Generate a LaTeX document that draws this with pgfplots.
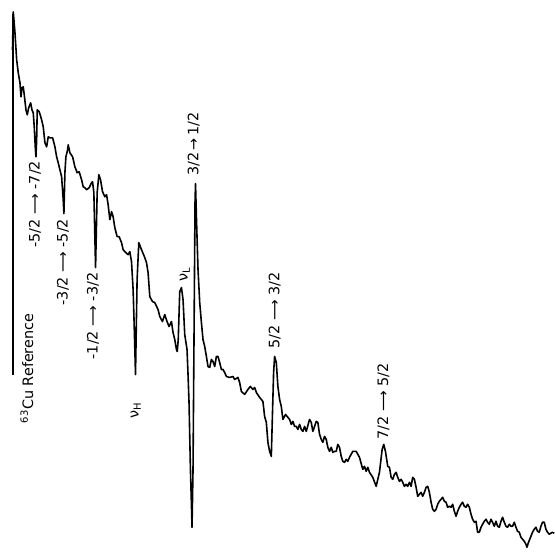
\documentclass[border=0pt]{standalone}
\usepackage{pgfplots}
\pgfplotsset{compat=1.18}
\usepackage{fontspec}
\setmainfont{DejaVu Sans}
\tikzset{lab/.style={font=\fontsize{14.4}{16}\selectfont, inner sep=0pt, rotate=90}}
\begin{document}
\begin{tikzpicture}
\begin{axis}[hide axis, scale only axis, width=555pt, height=552pt,
  xmin=0, xmax=555, ymin=0, ymax=552, y dir=reverse, clip=false]
\path[draw=none] (axis cs:0,0) rectangle (axis cs:555,552);
% 63Cu reference line
\addplot[black, line width=1.5pt] coordinates {(13,14) (13,376)};
% spectrum
\addplot[black, line width=1.6pt, line join=round] coordinates {
(12.5,50) (13.3,12) (15,33) (16.7,60) (18.3,73) (20,83) (21,97) (22,88) (23.3,87) (24.3,95)
(26,110) (27.3,115) (28.7,108) (30.7,103) (32,110) (33.3,113) (34.3,127) (35.3,147) (36,157)
(36.7,140) (37.3,110) (39.3,112) (41.7,120) (43.3,127) (45,143) (46.7,147) (48.3,137) (50,138)
(52.7,138) (55,147) (56.7,157) (58.3,163) (60,170) (61.7,177) (63.3,200) (64,214) (65,173)
(66,157) (67.7,150) (68.3,145) (70,153) (72.7,157) (75,167) (77.3,173) (79.3,172) (81.7,180)
(83.3,187) (85,188) (86.7,190) (89.3,188) (91.7,183) (92.7,182) (94,193) (95.7,268) (97.3,193)
(99,175) (100.7,180) (102.7,192) (105,197) (106.7,195) (108.3,205) (110,220) (111.7,212)
(113.3,217) (115,228) (117.3,237) (119.3,237) (121.7,243) (123.3,250) (126,253) (128.3,255)
(130,252) (131.7,262) (133.3,290) (134.3,323) (135.7,375) (137.3,280) (139,243) (141.7,250)
(145,258) (146.7,263) (148.3,273) (150,297) (152.7,302) (155,303) (158.3,310) (160,317)
(162.7,322) (165,315) (167.3,322) (169.3,327) (171.7,322) (173.3,333) (175,340) (176.7,350)
(177.5,352) (178.5,340) (180,292) (181.7,288) (183.3,300) (185,335) (187.3,350) (188.3,375)
(189.3,403) (190.7,470) (191.7,505) (192.3,528) (193.3,470) (194.3,337) (195.3,203) (195.8,184)
(196.7,217) (198.3,270) (200,303) (201.7,323) (203.3,340) (205,347) (206.7,357) (208.3,367)
(210,368) (211.7,360) (213.3,362) (215,367) (216.7,357) (218.3,357) (220,363) (221.7,370)
(223.3,370) (225,373) (226.7,377) (230,378) (233.3,377) (235,380) (238.3,378) (240,383)
(241.7,392) (245,395) (248.3,390) (250.7,387) (253.3,390) (255,388) (256.7,393) (260,398)
(263.3,402) (265,417) (266.7,423) (268.3,443) (270,452) (271.7,457) (272.7,420) (274,373)
(275,357) (276.7,363) (278.3,387) (280,400) (281.7,407) (283.3,420) (286,415) (288.3,418)
(290,420) (291.7,425) (293.3,422) (295,427) (296.7,427) (298.3,430) (300,425) (301.7,430)
(303.3,432) (305,427) (306.7,432) (310,420) (311.7,423) (313.3,432) (315,427) (316.7,422)
(318.3,423) (320,435) (321.7,440) (323.3,443) (325,437) (326.7,440) (328.3,448) (330,452)
(331.7,448) (333.3,453) (335,452) (336.7,452) (338.3,445) (340,448) (341.7,457) (343.3,462)
(345,463) (346.7,460) (348.3,462) (350,458) (353.3,452) (356.7,452) (360,458) (363.3,470)
(365,467) (366.7,472) (368.3,468) (370,473) (373.3,478) (376.7,487) (380,473) (382.7,450)
(384.3,445) (386,452) (388.3,467) (390,468) (391.7,478) (393.3,480) (395,475) (396.7,473)
(398.3,478) (400,482) (401.7,480) (403.3,483) (405,487) (406.7,485) (408.3,487) (410,483)
(411.7,487) (413.3,478) (415,480) (416.7,488) (418.3,497) (420,495) (421.7,493) (423.3,497)
(425,493) (426.7,488) (428.3,487) (430,493) (431.7,503) (433.3,510) (435,512) (436.7,510)
(438.3,505) (440,502) (441.7,500) (443.3,498) (445,502) (446.7,503) (448.3,508) (450,507)
(451.7,508) (453.3,505) (455,512) (456.7,517) (458.3,512) (460,508) (461.7,505) (463.3,503)
(465,507) (466.7,508) (468.3,505) (470,508) (471.7,515) (473.3,520) (475,523) (476.7,522)
(478.3,533) (480,533) (481.7,528) (483.3,525) (485,522) (486.7,520) (488.3,523) (490,525)
(491.7,520) (493.3,523) (495,527) (496.7,522) (498.3,527) (500,528) (501.7,522) (503.3,518)
(505,523) (506.7,527) (508.3,528) (510,525) (511.7,527) (513.3,527) (515,523) (516.7,528)
(518.3,532) (520,533) (521.7,538) (523.3,540) (525,542) (526.7,545) (527.7,548) (529.3,543)
(531.7,537) (533.3,533) (535,530) (536.7,528) (538.3,532) (540,533) (541.7,527) (543.3,523)
(545,523) (546.7,530) (548.3,533) (550,535) (553.3,533) (555,534)
};
% labels
\node[lab, anchor=east] at (axis cs:35,161) {-5/2 ⟶ -7/2};
\node[lab, anchor=east] at (axis cs:63,219) {-3/2 ⟶ -5/2};
\node[lab, anchor=east] at (axis cs:93,273) {-1/2 ⟶ -3/2};
\node[lab, anchor=east] at (axis cs:27,314) {\textsuperscript{63}Cu Reference};
\node[lab] at (axis cs:136,411) {ν\textsubscript{H}};
\node[lab] at (axis cs:185,275) {ν\textsubscript{L}};
\node[lab, anchor=west] at (axis cs:194,176) {3/2\,→\,1/2};
\node[lab, anchor=west] at (axis cs:275,349) {5/2 ⟶ 3/2};
\node[lab, anchor=west] at (axis cs:384,440) {7/2 ⟶ 5/2};
\end{axis}
\end{tikzpicture}
\end{document}
